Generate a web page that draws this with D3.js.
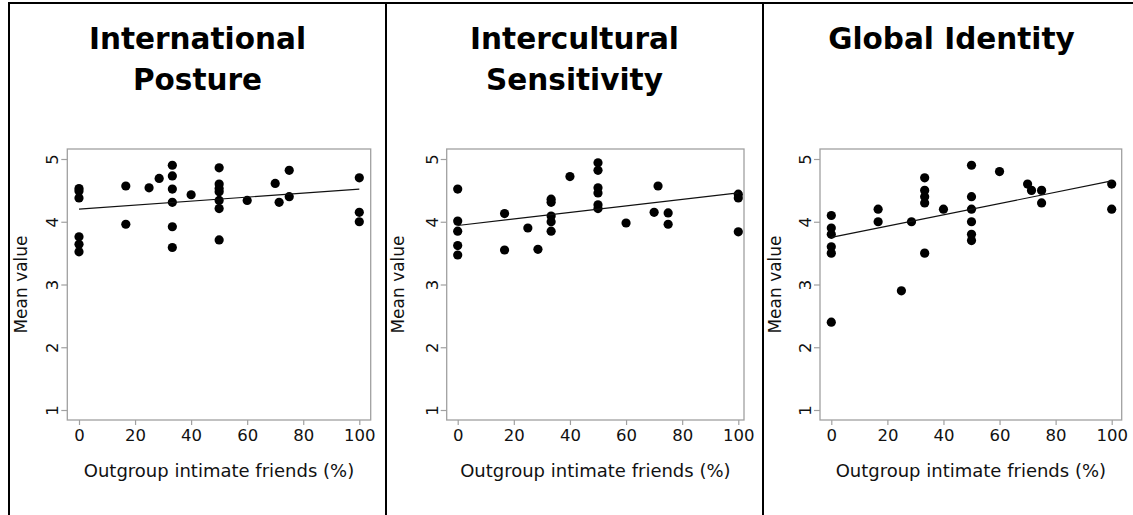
<!DOCTYPE html>
<html>
<head>
<meta charset="utf-8">
<script src="https://cdn.jsdelivr.net/npm/d3@7"></script>
<style>
  html, body { margin: 0; padding: 0; background: #fff; }
  svg { display: block; font-family: "DejaVu Sans", Verdana, sans-serif; }
</style>
</head>
<body>
<svg id="chart" width="1133" height="515"></svg>
<script>
// Panel titles (two lines where wrapped)
const titles = [
  ["International", "Posture"],
  ["Intercultural", "Sensitivity"],
  ["Global Identity"]
];

// Share of outgroup intimate friends (%) per respondent group
const postureX = [0,0,0,0,0,0, 16.7,16.7, 25, 28.6, 33.3,33.3,33.3,33.3,33.3,33.3, 40,
  50,50,50,50,50,50,50, 60, 70, 71.4, 75,75, 100,100,100];
const postureY = [4.53,4.49,4.38,3.76,3.64,3.52, 4.57,3.96, 4.54, 4.69, 4.90,4.73,4.52,4.31,3.92,3.59, 4.43,
  4.86,4.60,4.53,4.48,4.34,4.21,3.71, 4.34, 4.61, 4.31, 4.82,4.40, 4.70,4.15,4.00];

const sensitivityX = [0,0,0,0,0, 16.7,16.7, 25, 28.6, 33.3,33.3,33.3,33.3,33.3, 40,
  50,50,50,50,50,50, 60, 70, 71.4, 75,75, 100,100,100];
const sensitivityY = [4.52,4.01,3.85,3.62,3.47, 4.13,3.55, 3.90, 3.56, 4.36,4.31,4.09,4.00,3.85, 4.72,
  4.94,4.82,4.54,4.46,4.27,4.21, 3.98, 4.15, 4.57, 4.14,3.96, 4.44,4.38,3.84];

const identityX = [0,0,0,0,0,0, 16.7,16.7, 25, 28.6, 33.3,33.3,33.3,33.3,33.3, 40,
  50,50,50,50,50,50, 60, 70, 71.4, 75,75, 100,100];
const identityY = [4.1,3.9,3.8,3.6,3.5,2.4, 4.2,4.0, 2.9, 4.0, 4.7,4.5,4.4,4.3,3.5, 4.2,
  4.9,4.4,4.2,4.0,3.8,3.7, 4.8, 4.6, 4.5, 4.5,4.3, 4.6,4.2];

// Fitted linear trend: predicted mean value at 0% and at 100%
const fitAt0   = [4.20, 3.94, 3.75];
const fitAt100 = [4.52, 4.46, 4.65];

const xTicks = [0, 20, 40, 60, 80, 100];
const yTicks = [1, 2, 3, 4, 5];
const xTitle = "Outgroup intimate friends (%)";
const yTitle = "Mean value";

const seriesX = [postureX, sensitivityX, identityX];
const seriesY = [postureY, sensitivityY, identityY];

// Layout of the three panels
const panelLeft = [9, 386, 763];
const panelWidth = 377;
const frameLeft  = [67.3, 446.7, 820];
const frameRight = [370.7, 744, 1121.7];
const zeroPx     = [79, 457.7, 831.3];
const hundredPx  = [359.3, 738.3, 1111.7];
const frameTop = 149, frameBottom = 420;
const yOnePx = 410, yFivePx = 159;

const svg = d3.select("#chart");

// Outer panel rules
const rules = svg.append("g").attr("stroke", "#000").attr("stroke-width", 2);
rules.append("line").attr("x1", 8).attr("x2", 1133).attr("y1", 3).attr("y2", 3);
panelLeft.forEach(px => {
  rules.append("line").attr("x1", px).attr("x2", px).attr("y1", 2).attr("y2", 515);
});

titles.forEach((lines, i) => {
  const g = svg.append("g");

  const x = d3.scaleLinear().domain([0, 100]).range([zeroPx[i], hundredPx[i]]);
  const y = d3.scaleLinear().domain([1, 5]).range([yOnePx, yFivePx]);

  // Title
  const cx = panelLeft[i] + panelWidth / 2;
  lines.forEach((t, k) => {
    g.append("text")
      .attr("x", cx).attr("y", 49 + k * 41)
      .attr("text-anchor", "middle")
      .attr("font-size", 29.5).attr("font-weight", "bold")
      .attr("fill", "#000")
      .text(t);
  });

  // Plot frame
  g.append("rect")
    .attr("x", frameLeft[i]).attr("y", frameTop)
    .attr("width", frameRight[i] - frameLeft[i]).attr("height", frameBottom - frameTop)
    .attr("fill", "#fff").attr("stroke", "#a0a0a0").attr("stroke-width", 1.3);

  // x axis
  const xAxis = d3.axisBottom(x).tickValues(xTicks).tickSize(5).tickPadding(4).tickSizeOuter(0);
  const gx = g.append("g").attr("transform", `translate(0,${frameBottom})`).call(xAxis);
  gx.select(".domain").remove();
  gx.selectAll(".tick line").attr("stroke", "#a0a0a0").attr("stroke-width", 1.2);
  gx.selectAll(".tick text").attr("font-size", 16.5).attr("fill", "#111")
    .attr("font-family", "DejaVu Sans, Verdana, sans-serif");

  // y axis with rotated tick labels
  const yAxis = d3.axisLeft(y).tickValues(yTicks).tickSize(6).tickSizeOuter(0).tickFormat(d3.format("d"));
  const gy = g.append("g").attr("transform", `translate(${frameLeft[i]},0)`).call(yAxis);
  gy.select(".domain").remove();
  gy.selectAll(".tick line").attr("stroke", "#a0a0a0").attr("stroke-width", 1.2);
  gy.selectAll(".tick text")
    .attr("font-size", 16.5).attr("fill", "#111")
    .attr("font-family", "DejaVu Sans, Verdana, sans-serif")
    .attr("x", null).attr("dy", null)
    .attr("text-anchor", "middle")
    .attr("transform", "translate(-9,0) rotate(-90)");

  // Axis titles
  g.append("text")
    .attr("x", (frameLeft[i] + frameRight[i]) / 2).attr("y", 477)
    .attr("text-anchor", "middle").attr("font-size", 18).attr("fill", "#111")
    .text(xTitle);
  g.append("text")
    .attr("transform", `translate(${panelLeft[i] + 12},${(frameTop + frameBottom) / 2}) rotate(-90)`)
    .attr("text-anchor", "middle").attr("dy", "0.35em")
    .attr("font-size", 17).attr("fill", "#111")
    .text(yTitle);

  // Points
  g.append("g").selectAll("circle")
    .data(seriesX[i].map((v, k) => [v, seriesY[i][k]]))
    .join("circle")
    .attr("cx", d => x(d[0])).attr("cy", d => y(d[1]))
    .attr("r", 4.6).attr("fill", "#000");

  // Fitted line
  g.append("line")
    .attr("x1", x(0)).attr("y1", y(fitAt0[i]))
    .attr("x2", x(100)).attr("y2", y(fitAt100[i]))
    .attr("stroke", "#111").attr("stroke-width", 1.2);
});
</script>
</body>
</html>
